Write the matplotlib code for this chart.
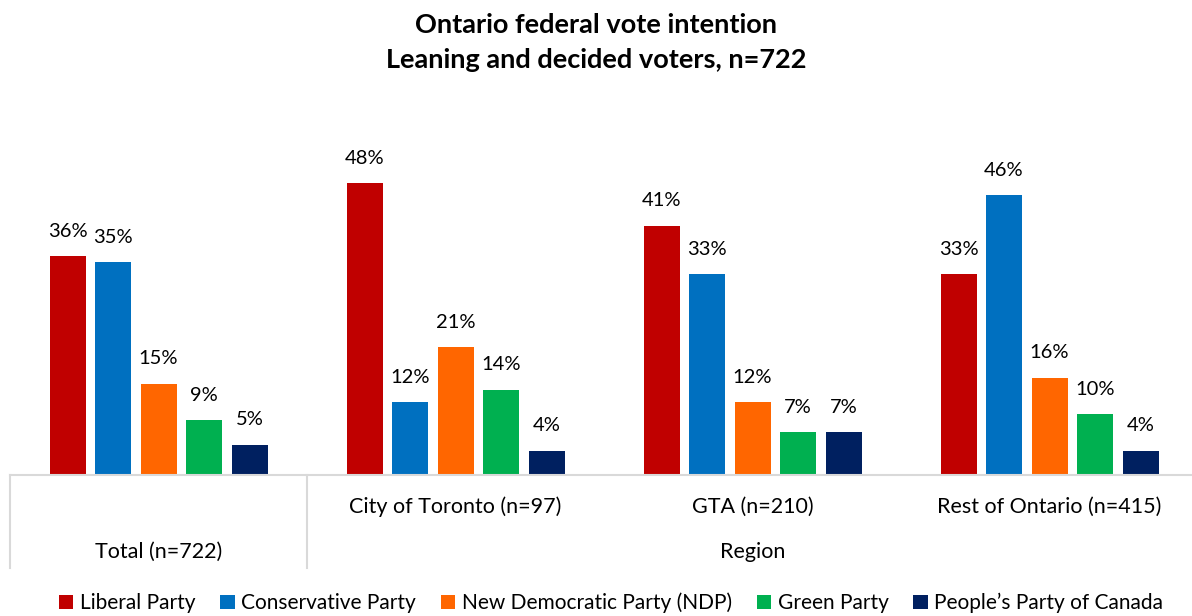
import numpy as np
import matplotlib.pyplot as plt
from matplotlib.patches import Patch
import matplotlib.transforms as mtransforms

plt.rcParams['font.family'] = ['Lato', 'DejaVu Sans']

groups = ["Total (n=722)", "City of Toronto (n=97)", "GTA (n=210)", "Rest of Ontario (n=415)"]
parties = ["Liberal Party", "Conservative Party", "New Democratic Party (NDP)",
           "Green Party", "People\u2019s Party of Canada"]
colors = ["#C00000", "#0070C0", "#FF6600", "#00B050", "#002060"]

liberal = [36, 48, 41, 33]
conservative = [35, 12, 33, 46]
ndp = [15, 21, 12, 16]
green = [9, 14, 7, 10]
ppc = [5, 4, 7, 4]
values = [liberal, conservative, ndp, green, ppc]

W, H = 1192, 616
fig = plt.figure(figsize=(W / 100, H / 100), dpi=100)
ax = fig.add_axes([10 / W, 1 - 475 / H, 1 - 10 / W, (475 - 140.6) / H])

x = np.arange(len(groups))
step = 45.5 / 297
width = 36 / 297
for k, (vals, col) in enumerate(zip(values, colors)):
    pos = x + (k - 2) * step
    ax.bar(pos, vals, width=width, color=col)
    for px, v in zip(pos, vals):
        ax.annotate(f"{v}%", (px, v), xytext=(0, 25), textcoords="offset pixels",
                    ha="center", va="center", fontsize=14.5)

ax.set_xlim(-0.5, 3.5 - 6 / 297)
ax.set_ylim(0, 55)
ax.set_xticks([])
ax.set_yticks([])
for s in ["top", "right", "left"]:
    ax.spines[s].set_visible(False)
ax.spines["bottom"].set_color("#d9d9d9")
ax.spines["bottom"].set_linewidth(1.5)

# category separators
trans = mtransforms.blended_transform_factory(ax.transData, ax.transAxes)
yb = -93 / 334.4
for xs in [-0.5, 0.5]:
    ax.plot([xs, xs], [0, yb], transform=trans, color="#d9d9d9", lw=1.5, clip_on=False)

# category labels
tlab = mtransforms.blended_transform_factory(ax.transData, fig.transFigure)
for i, g in enumerate(groups):
    yl = 552 if i == 0 else 507
    ax.text(i, 1 - yl / H, g, transform=tlab, ha="center", va="center", fontsize=15.5)
ax.text(2, 1 - 552 / H, "Region", transform=tlab, ha="center", va="center", fontsize=15.5)

fig.text(0.5, 1 - 25 / H, "Ontario federal vote intention", ha="center", va="center",
         fontsize=19.5, fontweight="bold")
fig.text(0.5, 1 - 60 / H, "Leaning and decided voters, n=722", ha="center", va="center",
         fontsize=19.5, fontweight="bold")

handles = [Patch(facecolor=c) for c in colors]
fig.legend(handles, parties, loc="center", bbox_to_anchor=(611 / W, 1 - 603 / H), ncol=5,
           frameon=False, fontsize=15, handlelength=0.7, handleheight=0.7,
           handletextpad=0.3, columnspacing=1.2, borderpad=0)

fig.savefig("out.png", dpi=100)
